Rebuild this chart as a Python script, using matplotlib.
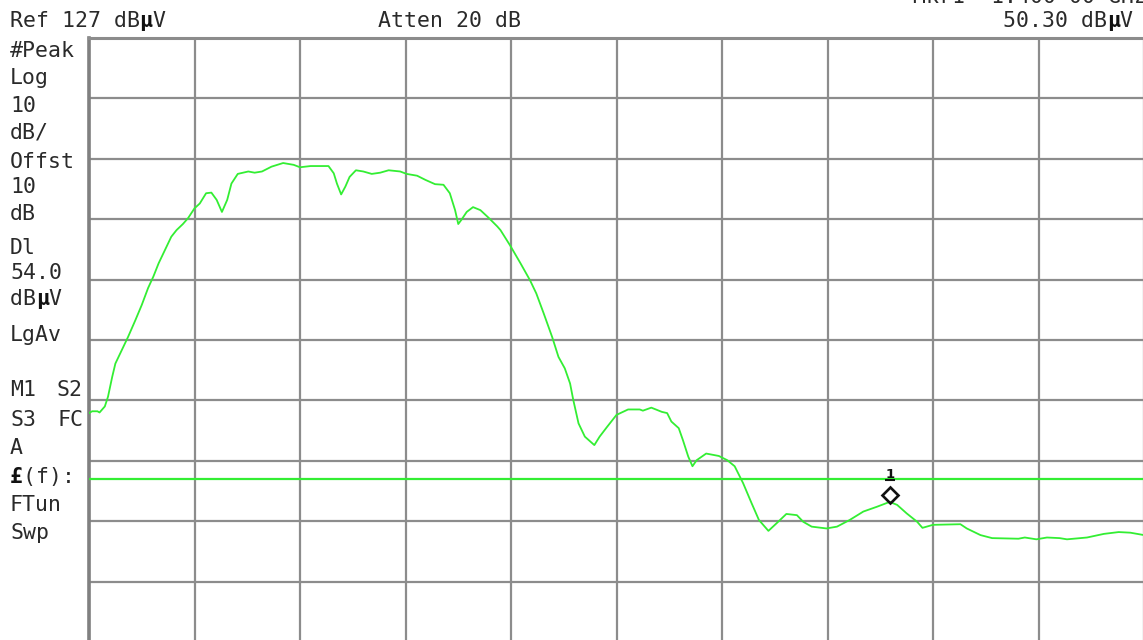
import matplotlib
matplotlib.use('Agg')
import matplotlib.pyplot as plt
import matplotlib.transforms as mtransforms

W, H = 1143, 640

# trace: x in graticule divisions (0..10), y in dBuV
trace_x = [0.00, 0.03, 0.08, 0.10, 0.15, 0.18, 0.22, 0.25, 0.31, 0.37,
           0.44, 0.50, 0.56, 0.61, 0.66, 0.72, 0.78, 0.83, 0.89, 0.94,
           1.00, 1.05, 1.11, 1.16, 1.21, 1.26, 1.31, 1.35, 1.41, 1.51,
           1.57, 1.64, 1.73, 1.84, 1.94, 2.00, 2.10, 2.27, 2.32, 2.35,
           2.39, 2.43, 2.47, 2.53, 2.60, 2.68, 2.76, 2.84, 2.95, 3.01,
           3.11, 3.19, 3.28, 3.36, 3.42, 3.47, 3.50, 3.53, 3.58, 3.64,
           3.71, 3.79, 3.87, 3.90, 3.94, 3.99, 4.09, 4.18, 4.24, 4.31,
           4.39, 4.45, 4.51, 4.56, 4.59, 4.64, 4.70, 4.79, 4.84, 4.91,
           5.00, 5.11, 5.22, 5.25, 5.33, 5.43, 5.48, 5.52, 5.59, 5.63,
           5.68, 5.72, 5.76, 5.85, 5.97, 6.05, 6.12, 6.20, 6.28, 6.35,
           6.44, 6.52, 6.61, 6.71, 6.77, 6.85, 6.99, 7.09, 7.21, 7.34,
           7.47, 7.59, 7.66, 7.75, 7.85, 7.90, 8.00, 8.26, 8.32, 8.45,
           8.56, 8.81, 8.87, 8.98, 9.08, 9.20, 9.27, 9.46, 9.62, 9.76,
           9.87, 10.00]
trace_y = [64.9, 65.2, 65.2, 65.0, 66.0, 67.6, 70.9, 73.1, 75.3, 77.5,
           80.3, 82.8, 85.6, 87.5, 89.7, 91.9, 94.1, 95.2, 96.2, 97.2,
           98.8, 99.6, 101.3, 101.4, 100.2, 98.2, 100.2, 102.9, 104.5, 104.9,
           104.7, 104.9, 105.7, 106.3, 106.0, 105.6, 105.8, 105.8, 104.6, 102.9,
           101.1, 102.4, 104.0, 105.1, 104.9, 104.5, 104.7, 105.1, 104.9, 104.5,
           104.2, 103.5, 102.8, 102.7, 101.3, 98.5, 96.2, 96.9, 98.2, 99.0,
           98.5, 97.2, 95.8, 95.2, 94.1, 92.7, 89.7, 86.9, 84.7, 81.4,
           77.5, 74.2, 72.3, 69.8, 67.1, 63.2, 61.0, 59.6, 61.0, 62.6,
           64.6, 65.5, 65.5, 65.3, 65.8, 65.1, 64.9, 63.5, 62.4, 60.4,
           57.7, 56.1, 57.1, 58.2, 57.8, 57.1, 56.1, 53.3, 50.0, 47.2,
           45.4, 46.7, 48.2, 48.0, 46.9, 46.1, 45.8, 46.1, 47.2, 48.6,
           49.4, 50.2, 49.7, 48.3, 46.9, 45.9, 46.4, 46.5, 45.8, 44.7,
           44.2, 44.1, 44.3, 44.0, 44.3, 44.2, 44.0, 44.3, 44.9, 45.2,
           45.1, 44.7]

ref_level = 127
db_per_div = 10
display_line = 54.0
mkr_x = 7.59
mkr_y = 50.30

left_labels = ['#Peak', 'Log', '10', 'dB/', 'Offst', '10', 'dB', 'Dl', '54.0',
               'dB\u00b5V', 'LgAv', 'M1', 'A', '\u00a3(f):', 'FTun', 'Swp']
left_rows = [49, 76, 104, 131, 160, 185, 212, 246, 271,
             297, 333, 388, 446, 475, 503, 531]

green = '#33ee33'
mono = 'DejaVu Sans Mono'
fs = 15.5
char_w = 0.602 * fs * 100 / 72  # px per character


def screen_text(x, y, s, bold_chars='\u00b5\u00a3', ha='left'):
    # draw text at pixel position (x = left edge or right edge, y = text centre)
    if ha == 'right':
        x = x - len(s) * char_w
    base = 1 - (y + 8) / H
    plain = ''.join(' ' if c in bold_chars else c for c in s)
    fig.text(x / W, base, plain, family=mono, fontsize=fs, va='baseline',
             ha='left', color='#2a2a2a')
    for i, c in enumerate(s):
        if c in bold_chars:
            fig.text((x + i * char_w) / W, base, c, family=mono, fontsize=fs,
                     va='baseline', ha='left', weight='bold', color='#111111')


fig = plt.figure(figsize=(W / 100, H / 100), dpi=100)
ax = fig.add_axes([89 / W, -2 / H, 1055 / W, 604 / H])
ax.set_xlim(0, 10)
ax.set_ylim(ref_level - 10 * db_per_div, ref_level)
ax.set_xticks(range(11))
ax.set_yticks(range(ref_level - 10 * db_per_div, ref_level + 1, db_per_div))
ax.tick_params(length=0, labelbottom=False, labelleft=False)
ax.grid(color='#8c8c8c', lw=1.6)
for side in ['right', 'bottom']:
    ax.spines[side].set_visible(False)
ax.spines['left'].set_color('#808080')
ax.spines['left'].set_linewidth(2.6)
ax.spines['top'].set_color('#8c8c8c')
ax.spines['top'].set_linewidth(2.2)

ax.plot(trace_x, trace_y, color=green, lw=1.3, zorder=3)
ax.axhline(display_line, color=green, lw=1.6, zorder=3)

# marker 1 sits a little above the trace point
off = mtransforms.offset_copy(ax.transData, fig=fig, x=0, y=6, units='dots')
ax.plot([mkr_x], [mkr_y], marker='D', ms=8.5, mfc='none', mec='#111111',
        mew=1.9, transform=off, zorder=4)
ax.annotate('1', (mkr_x, mkr_y), xytext=(0, 27),
            textcoords='offset pixels', ha='center', va='center',
            fontsize=9.5, weight='bold', color='#111111')
under = mtransforms.offset_copy(ax.transData, fig=fig, x=0, y=21, units='dots')
ax.plot([mkr_x], [mkr_y], marker='_', ms=7, mew=1.5, color='#111111',
        transform=under, zorder=4)

# header
screen_text(10, 19, 'Ref 127 dB\u00b5V')
screen_text(378, 19, 'Atten 20 dB')
screen_text(1133, 19, '50.30 dB\u00b5V', ha='right')
screen_text(913, -5, 'Mkr1  1.400 00 GHz')

# left annotation column
for lab, row in zip(left_labels, left_rows):
    screen_text(10, row, lab)
screen_text(57, 388, 'S2')
screen_text(10, 418, 'S3')
screen_text(57, 418, 'FC')

fig.savefig('out.png', dpi=100)
